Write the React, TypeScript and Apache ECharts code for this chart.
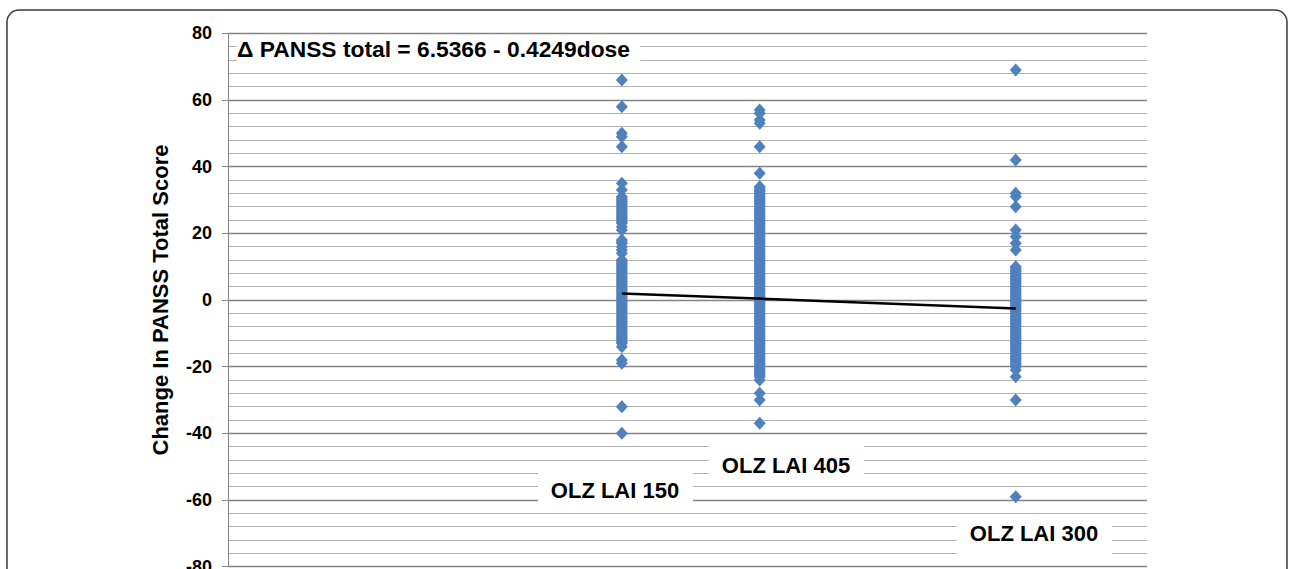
import React, { useEffect, useRef } from "react";
import * as echarts from "echarts";

// Dose groups (mg/day equivalents) and labels
const groupLabels = ["OLZ LAI 150", "OLZ LAI 405", "OLZ LAI 300"];
const groupDose = [10.714, 14.464, 21.429];

// Change in PANSS total score per patient
const change150 = [
  66, 58, 50, 49, 46, 35, 33, 31, 30.5, 30, 29.5, 29, 28.5, 28, 27.5, 27, 26.5, 26, 25.5, 25,
  24.5, 24, 23.5, 23, 22, 21, 18, 17.5, 17, 16, 15, 14, 12, 11.5, 11, 10.5, 10, 9.5, 9, 8.5,
  8, 7.5, 7, 6.5, 6, 5.5, 5, 4.5, 4, 3.5, 3, 2.5, 2, 1.5, 1, 0.5, 0, -0.5, -1, -1.5, -2, -2.5,
  -3, -3.5, -4, -4.5, -5, -5.5, -6, -6.5, -7, -7.5, -8, -8.5, -9, -9.5, -10, -10.5, -11,
  -11.5, -12, -12.5, -13, -14, -18, -19, -32, -40,
];
const change405 = [
  57, 56, 54, 53, 46, 38, 34, 33.5, 33, 32.5, 32, 31.5, 31, 30.5, 30, 29.5, 29, 28.5, 28,
  27.5, 27, 26.5, 26, 25.5, 25, 24.5, 24, 23.5, 23, 22.5, 22, 21.5, 21, 20.5, 20, 19.5, 19,
  18.5, 18, 17.5, 17, 16.5, 16, 15.5, 15, 14.5, 14, 13.5, 13, 12.5, 12, 11.5, 11, 10.5, 10,
  9.5, 9, 8.5, 8, 7.5, 7, 6.5, 6, 5.5, 5, 4.5, 4, 3.5, 3, 2.5, 2, 1.5, 1, 0.5, 0, -0.5, -1,
  -1.5, -2, -2.5, -3, -3.5, -4, -4.5, -5, -5.5, -6, -6.5, -7, -7.5, -8, -8.5, -9, -9.5, -10,
  -10.5, -11, -11.5, -12, -12.5, -13, -13.5, -14, -14.5, -15, -15.5, -16, -16.5, -17, -17.5,
  -18, -18.5, -19, -19.5, -20, -20.5, -21, -21.5, -22, -22.5, -23, -24, -28, -30, -37,
];
const change300 = [
  69, 42, 32, 31, 28, 21, 19, 17, 15, 10, 9.5, 9, 8.5, 8, 7.5, 7, 6.5, 6, 5.5, 5, 4.5, 4, 3.5,
  3, 2.5, 2, 1.5, 1, 0.5, 0, -0.5, -1, -1.5, -2, -2.5, -3, -3.5, -4, -4.5, -5, -5.5, -6, -6.5,
  -7, -7.5, -8, -8.5, -9, -9.5, -10, -10.5, -11, -11.5, -12, -12.5, -13, -13.5, -14, -14.5,
  -15, -15.5, -16, -16.5, -17, -17.5, -18, -18.5, -19, -19.5, -20, -21, -23, -30, -59,
];

// Regression line endpoints (Δ PANSS = 6.5366 - 0.4249 dose)
const trendDose = [10.714, 21.429];
const trendChange = [1.984, -2.569];

const yMin = -80;
const yMax = 80;
const yInterval = 20;
const xMin = 0;
const xMax = 25;

const equationText = "Δ PANSS total = 6.5366 - 0.4249dose";
const yAxisTitle = "Change In PANSS Total Score";

const FONT = '"Liberation Sans", Arial, sans-serif';

export default function App() {
  const ref = useRef<HTMLDivElement>(null);

  useEffect(() => {
    if (!ref.current) return;
    const chart = echarts.init(ref.current, undefined, { renderer: "svg" });

    const groups = [change150, change405, change300];
    const scatterData: number[][] = [];
    groups.forEach((vals, gi) => {
      vals.forEach((v) => scatterData.push([groupDose[gi], v]));
    });
    const trendData = trendDose.map((d, i) => [d, trendChange[i]]);

    const labelBoxes = [
      { x: 538, y: 466, w: 155, h: 39, cx: 615, cy: 490 },
      { x: 709, y: 440, w: 155, h: 39, cx: 786, cy: 465 },
      { x: 957, y: 518, w: 155, h: 42, cx: 1034, cy: 533 },
    ];

    const graphic: any[] = [
      {
        type: "rect",
        z: 100,
        silent: true,
        shape: { x: 7, y: 10, width: 1280, height: 640, r: 12 },
        style: { fill: "none", stroke: "#3a3a3a", lineWidth: 1.5 },
      },
      {
        type: "rect",
        z: 10,
        shape: { x: 237, y: 37, width: 403, height: 30 },
        style: { fill: "#ffffff" },
      },
      {
        type: "text",
        z: 11,
        x: 237,
        y: 49,
        style: {
          text: equationText,
          font: `bold 22.8px ${FONT}`,
          fill: "#000",
          align: "left",
          verticalAlign: "middle",
        },
      },
      {
        type: "text",
        z: 11,
        x: 160,
        y: 300,
        rotation: Math.PI / 2,
        style: {
          text: yAxisTitle,
          font: `bold 22px ${FONT}`,
          fill: "#000",
          align: "center",
          verticalAlign: "middle",
        },
      },
    ];
    labelBoxes.forEach((b, i) => {
      graphic.push({
        type: "rect",
        z: 10,
        shape: { x: b.x, y: b.y, width: b.w, height: b.h },
        style: { fill: "#ffffff" },
      });
      graphic.push({
        type: "text",
        z: 11,
        x: b.cx,
        y: b.cy,
        style: {
          text: groupLabels[i],
          font: `bold 22px ${FONT}`,
          fill: "#000",
          align: "center",
          verticalAlign: "middle",
        },
      });
    });

    chart.setOption({
      animation: false,
      backgroundColor: "#ffffff",
      grid: {
        left: 228,
        top: 33.333,
        width: 919,
        height: 533.333,
        containLabel: false,
        outerBoundsMode: "none",
      },
      xAxis: {
        type: "value",
        min: xMin,
        max: xMax,
        show: false,
        splitLine: { show: false },
      },
      yAxis: {
        type: "value",
        min: yMin,
        max: yMax,
        interval: yInterval,
        axisLine: { show: true, lineStyle: { color: "#868686", width: 1 } },
        axisTick: { show: true, length: 6, lineStyle: { color: "#868686" } },
        axisLabel: {
          fontSize: 18,
          fontWeight: "bold",
          color: "#000",
          fontFamily: FONT,
          margin: 16,
        },
        splitLine: { show: true, lineStyle: { color: "#858585", width: 1.4 } },
        minorTick: { show: false, splitNumber: 5 },
        minorSplitLine: { show: true, lineStyle: { color: "#b2b2b2", width: 1.2 } },
      },
      series: [
        {
          type: "scatter",
          data: scatterData,
          symbol: "diamond",
          symbolSize: [12, 13],
          itemStyle: { color: "#4F81BD", opacity: 1 },
          z: 2,
        },
        {
          type: "line",
          data: trendData,
          symbol: "none",
          lineStyle: { color: "#000", width: 2.5 },
          z: 3,
        },
      ],
      graphic,
    });

    return () => chart.dispose();
  }, []);

  return (
    <div
      ref={ref}
      style={{
        position: "fixed",
        left: 0,
        top: 0,
        width: 1289,
        height: 569,
        background: "#fff",
      }}
    />
  );
}
